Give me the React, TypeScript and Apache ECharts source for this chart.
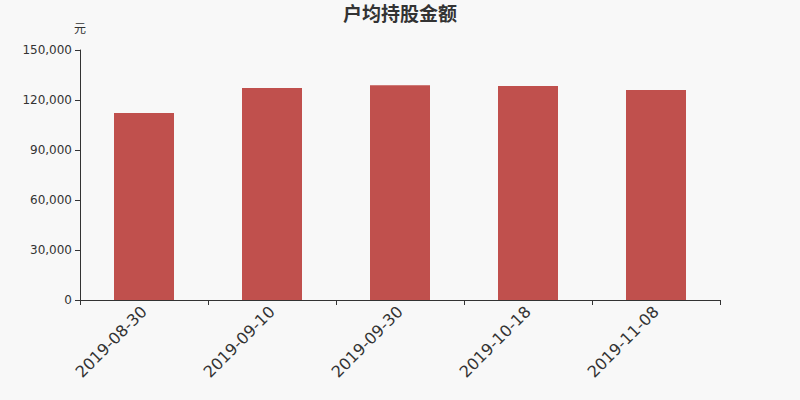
import React, { useEffect, useRef } from "react";
import * as echarts from "echarts";

const categories = ["2019-08-30", "2019-09-10", "2019-09-30", "2019-10-18", "2019-11-08"];
const values = [112200, 127200, 128800, 128400, 126000];
const yTicks = { min: 0, max: 150000, interval: 30000 };

export default function App() {
  const ref = useRef<HTMLDivElement>(null);
  useEffect(() => {
    const chart = echarts.init(ref.current!, null, { renderer: "svg" });
    chart.setOption({
      animation: false,
      backgroundColor: "#f8f8f8",
      textStyle: { fontFamily: "DejaVu Sans" },
      title: {
        text: "户均持股金额",
        left: "center",
        top: -2,
        textStyle: { fontSize: 19, fontWeight: "bold", color: "#333", fontFamily: "Noto Sans CJK SC" },
      },
      grid: { left: 80, right: 80, top: 50, bottom: 100 },
      xAxis: {
        type: "category",
        data: categories,
        axisLine: { lineStyle: { color: "#333" } },
        axisTick: { show: true, alignWithLabel: false, length: 5 },
        axisLabel: { rotate: 45, fontSize: 16, color: "#333", margin: 9 },
      },
      yAxis: {
        type: "value",
        min: yTicks.min,
        max: yTicks.max,
        interval: yTicks.interval,
        name: "元",
        nameGap: 17,
        nameTextStyle: { color: "#333", fontSize: 12, align: "center", fontFamily: "Noto Sans CJK SC" },
        axisLine: { show: true, lineStyle: { color: "#333" } },
        axisTick: { show: true, length: 5 },
        splitLine: { show: false },
        axisLabel: {
          color: "#333",
          fontSize: 12,
          margin: 8,
          formatter: (v: number) => v.toLocaleString("en-US"),
        },
      },
      series: [
        {
          type: "bar",
          data: values,
          barWidth: 60,
          itemStyle: { color: "#c0504d" },
        },
      ],
    });
    return () => chart.dispose();
  }, []);
  return <div ref={ref} style={{ width: 800, height: 400, position: "absolute", left: 0, top: 0 }} />;
}
